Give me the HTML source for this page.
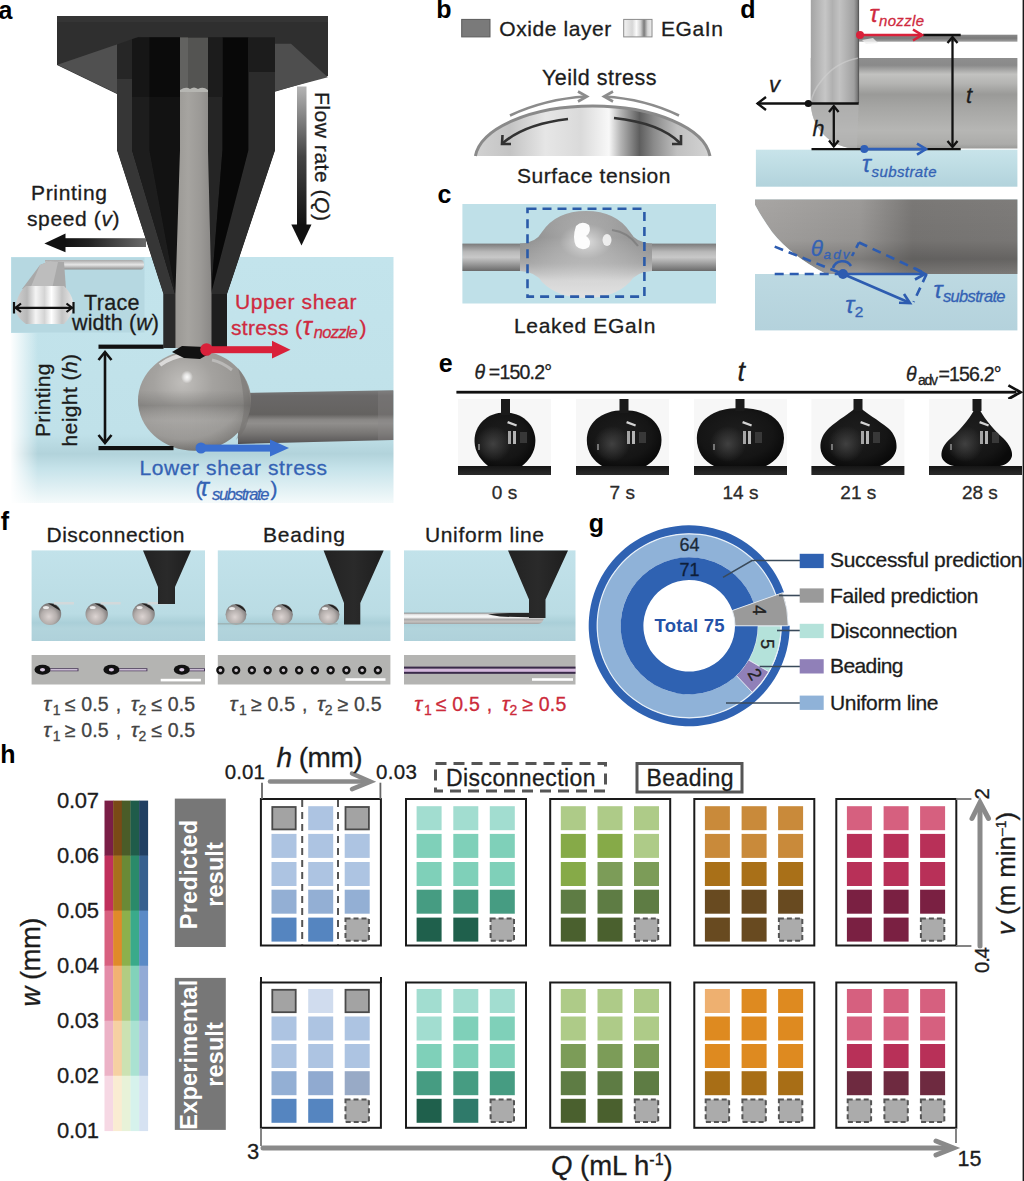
<!DOCTYPE html>
<html><head><meta charset="utf-8"><title>Figure</title>
<style>html,body{margin:0;padding:0;background:#fff;overflow:hidden;width:1024px;height:1181px;} svg{display:block;} text{font-family:"Liberation Sans", sans-serif;}</style>
</head><body>
<svg width="1024" height="1181" viewBox="0 0 1024 1181" font-family="'Liberation Sans', sans-serif">
<rect x="0" y="0" width="1024" height="1181" fill="#ffffff"/>

<defs>
<linearGradient id="aBg" x1="0" y1="0" x2="0" y2="1">
 <stop offset="0" stop-color="#c3e4ec"/>
 <stop offset="0.72" stop-color="#c0e1e9"/>
 <stop offset="0.8" stop-color="#b2d3db"/>
 <stop offset="0.86" stop-color="#c6e3ea"/>
 <stop offset="1" stop-color="#f4fafb"/>
</linearGradient>
<linearGradient id="aLeftFade" x1="0" y1="0" x2="1" y2="0">
 <stop offset="0" stop-color="#ffffff" stop-opacity="1"/>
 <stop offset="1" stop-color="#ffffff" stop-opacity="0"/>
</linearGradient>
<linearGradient id="tubeV" x1="0" y1="0" x2="1" y2="0">
 <stop offset="0" stop-color="#9a9894"/>
 <stop offset="0.35" stop-color="#a6a4a0"/>
 <stop offset="0.7" stop-color="#9b9996"/>
 <stop offset="1" stop-color="#8a8886"/>
</linearGradient>
<linearGradient id="speedArr" x1="0" y1="0" x2="1" y2="0">
 <stop offset="0" stop-color="#111"/>
 <stop offset="0.3" stop-color="#222"/>
 <stop offset="1" stop-color="#6a6a6a"/>
</linearGradient>
<linearGradient id="flowArr" x1="0" y1="0" x2="0" y2="1">
 <stop offset="0" stop-color="#b4b4b4"/>
 <stop offset="0.5" stop-color="#444"/>
 <stop offset="1" stop-color="#111"/>
</linearGradient>
<radialGradient id="ballG" cx="0.4" cy="0.32" r="0.75">
 <stop offset="0" stop-color="#c0bebb"/>
 <stop offset="0.35" stop-color="#a4a29f"/>
 <stop offset="0.75" stop-color="#94928f"/>
 <stop offset="0.95" stop-color="#767471"/>
 <stop offset="1" stop-color="#6a6865"/>
</radialGradient>
<linearGradient id="ballBand" x1="0" y1="0" x2="0" y2="1">
 <stop offset="0" stop-color="#000" stop-opacity="0"/>
 <stop offset="0.4" stop-color="#000" stop-opacity="0.0"/>
 <stop offset="0.55" stop-color="#000" stop-opacity="0.14"/>
 <stop offset="0.7" stop-color="#fff" stop-opacity="0.1"/>
 <stop offset="0.9" stop-color="#fff" stop-opacity="0.06"/>
 <stop offset="1" stop-color="#000" stop-opacity="0.05"/>
</linearGradient>
<radialGradient id="ballHi" cx="0.5" cy="0.5" r="0.5">
 <stop offset="0" stop-color="#ffffff" stop-opacity="0.95"/>
 <stop offset="0.5" stop-color="#ffffff" stop-opacity="0.6"/>
 <stop offset="1" stop-color="#ffffff" stop-opacity="0"/>
</radialGradient>
<linearGradient id="traceG" x1="0" y1="0" x2="0" y2="1">
 <stop offset="0" stop-color="#7a7a7a"/>
 <stop offset="0.1" stop-color="#6a6868"/>
 <stop offset="0.45" stop-color="#646260"/>
 <stop offset="0.55" stop-color="#8a8886"/>
 <stop offset="0.62" stop-color="#908e8c"/>
 <stop offset="0.8" stop-color="#787674"/>
 <stop offset="0.95" stop-color="#5e5c5c"/>
 <stop offset="1" stop-color="#4a4a4e"/>
</linearGradient>
<linearGradient id="insetSec" x1="0" y1="0" x2="1" y2="0">
 <stop offset="0" stop-color="#d0d0d0"/>
 <stop offset="0.2" stop-color="#b8b8b8"/>
 <stop offset="0.35" stop-color="#f4f4f4"/>
 <stop offset="0.5" stop-color="#d4d4d4"/>
 <stop offset="0.62" stop-color="#ffffff"/>
 <stop offset="0.8" stop-color="#c4c4c4"/>
 <stop offset="1" stop-color="#e8e8e8"/>
</linearGradient>
<linearGradient id="insetTube" x1="0" y1="0" x2="0" y2="1">
 <stop offset="0" stop-color="#a8a8a8"/>
 <stop offset="0.5" stop-color="#e6e6e6"/>
 <stop offset="1" stop-color="#8e8e8e"/>
</linearGradient>
<clipPath id="nozClip"><polygon points="117,37.5 275,37.5 275,150 227,294 227,348 163.5,348 163.5,294 117,150"/></clipPath>
</defs>

<rect x="11" y="257" width="382.5" height="246" fill="url(#aBg)"/>
<rect x="10" y="333" width="28" height="172" fill="url(#aLeftFade)"/>
<rect x="11.5" y="257.5" width="133" height="75" fill="#b6d8e1"/>
<path d="M45,260 H141 a3,4.75 0 0 1 0,9.5 H45 Z" fill="url(#insetTube)"/>
<polygon points="22,289 40,265 50,261 64,262 66,289" fill="#a9a9a9"/>
<polygon points="40,265 50,261 58,262 52,289 30,289" fill="#bdbdbd"/>
<path d="M26,324 C18,318 14,312 16,304 C18,295 22,289 26,286 H64 C70,292 73,298 73.5,305 C73,313 68,320 64,324 Z" fill="url(#insetSec)"/>
<g stroke="#111" stroke-width="2.2" fill="none"><line x1="15" y1="307.8" x2="72.5" y2="307.8"/><line x1="14" y1="302" x2="14" y2="313.5"/><line x1="73.5" y1="302" x2="73.5" y2="313.5"/><polyline points="21,303.5 15.5,307.8 21,312"/><polyline points="66.5,303.5 72,307.8 66.5,312"/></g>
<path d="M238,393 L393.3,390.3 L393.3,440 L238,444 Z" fill="url(#traceG)"/>
<rect x="378" y="391" width="15.3" height="49" fill="#8a8886" opacity="0.35"/>
<ellipse cx="194.5" cy="400.5" rx="56.5" ry="50.3" fill="url(#ballG)"/>
<ellipse cx="194.5" cy="400.5" rx="56.5" ry="50.3" fill="url(#ballBand)"/>
<path d="M238,368 Q252,385 250,410 Q248,430 236,440 Q244,420 244,405 Q243,385 238,368Z" fill="#6e6c6a" opacity="0.45"/>
<ellipse cx="187" cy="377" rx="6" ry="6.5" fill="url(#ballHi)"/>
<path d="M160,365 Q172,356 186,355" stroke="#f2f2f2" stroke-width="4" fill="none" opacity="0.7"/>
<path d="M212,360 Q222,362 232,370" stroke="#d8d8d8" stroke-width="3" fill="none" opacity="0.5"/>
<polygon points="57,16 328,16 328,76 274,92 117,94 57,65" fill="#2f2f2f"/>
<rect x="57" y="16" width="271" height="6" fill="#353535"/>
<polygon points="57.5,64.8 117.5,44.2 117.5,93.8" fill="#505050"/>
<polygon points="274,43.7 291,43.7 327.8,77.3 274,91.4" fill="#4e4e4e"/>
<g clip-path="url(#nozClip)">
<rect x="110" y="30" width="170" height="330" fill="#151515"/>
<polygon points="117,36 132,36 132,150 175,294 175,350 163.5,350 163.5,294 117,150" fill="#363636"/>
<polygon points="132,36 149.5,36 149.5,150 176,294 175,294 132,150" fill="#1d1d1d"/>
<polygon points="149.5,36 180,36 180,150 176,294 149.5,150" fill="#121212"/>
<polygon points="208,36 222.5,36 222.5,150 211,294 208,150" fill="#252525"/>
<polygon points="222.5,36 248.5,36 248.5,150 214,294 211,294 222.5,150" fill="#080808"/>
<polygon points="248.5,36 280,36 280,150 227,294 227,350 211,350 211,294 248.5,150" fill="#2c2c2c"/>
<polygon points="211,294 227,294 227,350 211,350" fill="#1e1e1e"/>
<rect x="248.5" y="36" width="27" height="36" fill="#1c1c1c"/>
<rect x="117" y="36" width="15" height="43" fill="#262626"/>
<rect x="132" y="36" width="17.5" height="61" fill="#161616"/>
<rect x="149.5" y="36" width="30.5" height="61" fill="#0b0b0b"/>
<rect x="208" y="36" width="14.5" height="61" fill="#1c1c1c"/>
<polygon points="163.5,294 175.4,294 175.4,350 163.5,350" fill="#2a2a2a"/>
<polygon points="180,88 208,88 208,150 211.5,294 211.5,350 175.4,350 175.4,294 180,150" fill="url(#tubeV)"/>
<polygon points="180,37 208,37 208,90 180,90" fill="#545452"/>
<polygon points="180,37 188,37 188,90 180,90" fill="#626260"/>
<path d="M180,90 Q186,86 190,89 Q194,86 198,89 Q203,86 208,90 L208,92 L180,92Z" fill="#b6b6b2"/>
</g>
<polygon points="117,36 141,36 117,44.5" fill="#2f2f2f"/>
<path d="M172,352 L182,346 L205,347 L212,352 L200,359 L184,358 Z" fill="#111"/>
<rect x="297" y="86.5" width="9.5" height="140" fill="url(#flowArr)"/>
<polygon points="291.3,224.5 311.5,224.5 301.5,245.5" fill="#111"/>
<rect x="64" y="238.2" width="82" height="8.8" fill="url(#speedArr)"/>
<polygon points="44.4,243.5 65.5,233.4 65.5,252.3" fill="#111"/>
<rect x="98.5" y="344.6" width="65" height="4.2" fill="#111"/>
<rect x="98.5" y="446" width="75" height="4.2" fill="#111"/>
<g stroke="#111" stroke-width="2.6" fill="none"><line x1="105" y1="352" x2="105" y2="443"/><polyline points="98.5,360 105,352 111.5,360"/><polyline points="98.5,435 105,443 111.5,435"/></g>
<circle cx="206.5" cy="349.5" r="6.3" fill="#d9213a"/>
<rect x="206" y="346.2" width="70" height="7" fill="#d9213a"/>
<polygon points="272,340.8 290.5,349.7 272,358.6" fill="#d9213a"/>
<circle cx="201" cy="448" r="5.5" fill="#3a6fd0"/>
<rect x="200" y="444.6" width="72" height="7" fill="#3a6fd0"/>
<polygon points="270,439.5 289,448 270,456.5" fill="#3a6fd0"/>

<defs>
<linearGradient id="egaSw" x1="0" y1="0" x2="1" y2="0">
 <stop offset="0" stop-color="#f2f2f2"/>
 <stop offset="0.3" stop-color="#d6d6d6"/>
 <stop offset="0.45" stop-color="#fafafa"/>
 <stop offset="0.6" stop-color="#d0d0d0"/>
 <stop offset="0.72" stop-color="#7a7a7a"/>
 <stop offset="0.85" stop-color="#d8d8d8"/>
 <stop offset="1" stop-color="#eeeeee"/>
</linearGradient>
<linearGradient id="domeG" x1="475" y1="0" x2="710" y2="0" gradientUnits="userSpaceOnUse">
 <stop offset="0" stop-color="#d2d2d2"/>
 <stop offset="0.15" stop-color="#c4c4c4"/>
 <stop offset="0.3" stop-color="#e6e6e6"/>
 <stop offset="0.45" stop-color="#dadada"/>
 <stop offset="0.57" stop-color="#f8f8f8"/>
 <stop offset="0.62" stop-color="#b4b4b4"/>
 <stop offset="0.7" stop-color="#5e5e5e"/>
 <stop offset="0.76" stop-color="#8a8a8a"/>
 <stop offset="0.86" stop-color="#c0c0c0"/>
 <stop offset="1" stop-color="#d4d4d4"/>
</linearGradient>
<linearGradient id="cTube" x1="0" y1="0" x2="0" y2="1">
 <stop offset="0" stop-color="#7a7a7a"/>
 <stop offset="0.3" stop-color="#b8b8b8"/>
 <stop offset="0.5" stop-color="#c8c8c8"/>
 <stop offset="0.75" stop-color="#9a9a9a"/>
 <stop offset="1" stop-color="#6a6a6a"/>
</linearGradient>
<radialGradient id="cBlob" cx="0.5" cy="0.35" r="0.5">
 <stop offset="0" stop-color="#ffffff" stop-opacity="0.7"/>
 <stop offset="0.4" stop-color="#ffffff" stop-opacity="0.2"/>
 <stop offset="1" stop-color="#ffffff" stop-opacity="0"/>
</radialGradient>
<linearGradient id="cBlobV" x1="0" y1="0" x2="0" y2="1">
 <stop offset="0" stop-color="#9a9a9a"/>
 <stop offset="0.3" stop-color="#8a8a8a"/>
 <stop offset="0.6" stop-color="#a8a8a8"/>
 <stop offset="0.8" stop-color="#d6d6d6"/>
 <stop offset="1" stop-color="#e2e2e2"/>
</linearGradient>
<linearGradient id="dNoz" x1="0" y1="0" x2="1" y2="0">
 <stop offset="0" stop-color="#a4a4a4"/>
 <stop offset="0.3" stop-color="#c6c6c6"/>
 <stop offset="0.45" stop-color="#b0b0b0"/>
 <stop offset="0.6" stop-color="#c2c2c2"/>
 <stop offset="0.9" stop-color="#a0a0a0"/>
 <stop offset="1" stop-color="#6a6a6a"/>
</linearGradient>
<linearGradient id="dTube" x1="0" y1="0" x2="0" y2="1">
 <stop offset="0" stop-color="#8e8e8e"/>
 <stop offset="0.08" stop-color="#8a8a8a"/>
 <stop offset="0.18" stop-color="#c2c2c0"/>
 <stop offset="0.28" stop-color="#b4b4b2"/>
 <stop offset="0.4" stop-color="#9a9a98"/>
 <stop offset="0.55" stop-color="#a6a6a4"/>
 <stop offset="0.8" stop-color="#b6b6b4"/>
 <stop offset="0.95" stop-color="#acacaa"/>
 <stop offset="1" stop-color="#9a9a98"/>
</linearGradient>
<linearGradient id="dThin" x1="0" y1="0" x2="0" y2="1">
 <stop offset="0" stop-color="#8a8a8a"/>
 <stop offset="0.5" stop-color="#7a7a7a"/>
 <stop offset="1" stop-color="#a0a0a0"/>
</linearGradient>
<linearGradient id="dSub" x1="0" y1="0" x2="0" y2="1">
 <stop offset="0" stop-color="#c8e4ea"/>
 <stop offset="1" stop-color="#b2d3dc"/>
</linearGradient>
<linearGradient id="d2Gray" x1="0" y1="0" x2="1" y2="0">
 <stop offset="0" stop-color="#a8a6a4"/>
 <stop offset="0.4" stop-color="#9c9a98"/>
 <stop offset="0.6" stop-color="#7a7876"/>
 <stop offset="1" stop-color="#7e7c7a"/>
</linearGradient>
<linearGradient id="d2GrayV" x1="0" y1="0" x2="0" y2="1">
 <stop offset="0" stop-color="#000" stop-opacity="0"/>
 <stop offset="0.55" stop-color="#000" stop-opacity="0.05"/>
 <stop offset="0.8" stop-color="#000" stop-opacity="0.2"/>
 <stop offset="1" stop-color="#000" stop-opacity="0.02"/>
</linearGradient>
<linearGradient id="d2Sub" x1="0" y1="0" x2="0" y2="1">
 <stop offset="0" stop-color="#c9e3ea"/>
 <stop offset="1" stop-color="#b4d2dc"/>
</linearGradient>
<marker id="mGray" viewBox="0 0 10 10" refX="8" refY="5" markerWidth="5" markerHeight="5" orient="auto-start-reverse" markerUnits="userSpaceOnUse"><path d="M1,1 L8,5 L1,9" fill="none" stroke="#8a8a8a" stroke-width="1.6"/></marker>
</defs>

<rect x="461.7" y="19.4" width="28.3" height="17.5" fill="#7a7a7a" stroke="#5a5a5a" stroke-width="1"/>
<rect x="623.7" y="19.4" width="28.3" height="17.5" fill="url(#egaSw)" stroke="#8a8a8a" stroke-width="1"/>
<path d="M475.4,156 A117.8,55 0 0 1 710,156 Z" fill="url(#domeG)"/>
<path d="M475.4,156 A117.8,55 0 0 1 710,156" fill="none" stroke="#8a8a8a" stroke-width="3"/>
<g stroke="#8c8c8c" stroke-width="2.6" fill="none"><path d="M510,115.5 Q545,99 586,96.5"/><path d="M578,91.5 L587,96.5 L578,101.5"/><path d="M679,115.5 Q645,99 604,96.5"/><path d="M613,91.5 L604,96.5 L613,101.5"/></g>
<g stroke="#333" stroke-width="2.6" fill="none"><path d="M568,119 Q525,124 503,143"/><path d="M502.5,135 L502,144 L511,144"/><path d="M614,118 Q660,123 680,143"/><path d="M681,135 L681,144 L672,144"/></g>
<rect x="462.4" y="204" width="253.6" height="99.5" fill="#bfe0e8"/>
<rect x="462.4" y="243.6" width="253.6" height="27.4" fill="url(#cTube)"/>
<path d="M520,243.6 Q536,243 542,232 Q556,211 586,211 Q616,211 630,232 Q636,243 652,243.6 L652,271 Q636,272 630,282 Q614,298 586,298 Q558,298 542,282 Q536,272 520,271 Z" fill="url(#cBlobV)"/>
<path d="M520,243.6 Q536,243 542,232 Q556,211 586,211 Q616,211 630,232 Q636,243 652,243.6 L652,271 Q636,272 630,282 Q614,298 586,298 Q558,298 542,282 Q536,272 520,271 Z" fill="url(#cBlob)"/>
<path d="M576,226 Q582,220 589,225 Q592,232 586,236 Q592,240 589,247 Q582,252 576,246 Q572,238 576,226Z" fill="#ffffff" opacity="0.95"/>
<ellipse cx="607" cy="240" rx="4.5" ry="6" fill="#f4f4f4" opacity="0.9"/>
<path d="M612,230 Q628,232 638,246" stroke="#6a6a6a" stroke-width="2" fill="none" opacity="0.5"/>
<rect x="527.5" y="208.8" width="116.9" height="87.8" fill="none" stroke="#2a5aa8" stroke-width="2.6" stroke-dasharray="9,6"/>
<rect x="755.9" y="149.7" width="261.5" height="37" fill="url(#dSub)"/>
<rect x="859" y="34.7" width="158.4" height="7" fill="url(#dThin)"/>
<path d="M858,58 H1017.4 V148.6 H857 A46,46 0 0 1 810.8,101 V58 Z" fill="url(#dTube)"/>
<rect x="810.8" y="0" width="48" height="103" fill="url(#dNoz)"/>
<path d="M810.8,103.5 A46,46 0 0 0 857,148.6 L858.7,103.5 Z" fill="#b6b6b6" opacity="0.55"/>
<path d="M858.7,58 Q836,62 822,80 Q812,92 811,103" fill="none" stroke="#d0d0d0" stroke-width="1.5" opacity="0.6"/>
<line x1="858.5" y1="0" x2="858.5" y2="103" stroke="#5a5a5a" stroke-width="1.2"/>
<polygon points="862,40 873,38 878,43 866,44" fill="#f0f0f0" opacity="0.8"/>
<g stroke="#111" stroke-width="2.3" fill="none"><line x1="757" y1="103.5" x2="858.7" y2="103.5"/><polyline points="766,97 757.5,103.5 766,110"/><line x1="811.5" y1="149.1" x2="960.7" y2="149.1"/><line x1="923" y1="35" x2="960.7" y2="35"/><line x1="833.8" y1="106" x2="833.8" y2="146.5"/><polyline points="829,112 833.8,106 838.6,112"/><polyline points="829,140.5 833.8,146.5 838.6,140.5"/><line x1="952.5" y1="37" x2="952.5" y2="147"/><polyline points="947.5,43 952.5,37 957.5,43"/><polyline points="947.5,141 952.5,147 957.5,141"/></g>
<circle cx="808.3" cy="103.5" r="3.6" fill="#111"/>
<g stroke="#d9213a" stroke-width="2.6" fill="none"><line x1="860" y1="35" x2="922" y2="35"/><polyline points="913,29.5 922,35 913,40.5"/></g>
<circle cx="860" cy="35" r="4" fill="#d9213a"/>
<g stroke="#3060b8" stroke-width="2.6" fill="none"><line x1="864" y1="149.1" x2="926" y2="149.1"/><polyline points="917,143.6 926,149.1 917,154.6"/></g>
<circle cx="864.3" cy="149.1" r="4" fill="#3060b8"/>
<rect x="755" y="199.4" width="262.4" height="131" fill="url(#d2Sub)"/>
<path d="M755,199.4 H1017.4 V274 H826 Q790,255 772,232 Q762,218 755,205 Z" fill="url(#d2Gray)"/>
<path d="M755,199.4 H1017.4 V274 H826 Q790,255 772,232 Q762,218 755,205 Z" fill="url(#d2GrayV)"/>
<path d="M755,205 Q762,218 772,232 Q790,255 826,274 H755 Z" fill="#ffffff"/>
<g stroke="#2d5cb0" stroke-width="2.6" fill="none"><line x1="774.7" y1="274" x2="843" y2="274" stroke-dasharray="9,6"/><line x1="774.7" y1="246.6" x2="843" y2="274" stroke-dasharray="9,6"/><line x1="843" y1="274" x2="924" y2="274"/><polyline points="915,268.5 925,274 915,279.5"/><line x1="843" y1="274" x2="909" y2="302.5"/><polyline points="899,302.8 910,303.2 904,294"/><line x1="859" y1="242.5" x2="926.6" y2="274" stroke-dasharray="9,6"/><line x1="926.6" y1="274" x2="913.6" y2="302" stroke-dasharray="9,6"/><line x1="859" y1="242.5" x2="852" y2="256" stroke-dasharray="6,5"/><path d="M833,268 A10,10 0 0 1 851,266"/></g>
<circle cx="843" cy="274" r="5" fill="#2d5cb0"/>
<defs>
<radialGradient id="dropG" cx="0.45" cy="0.45" r="0.6">
 <stop offset="0" stop-color="#1e1e1e"/>
 <stop offset="0.7" stop-color="#151515"/>
 <stop offset="1" stop-color="#0a0a0a"/>
</radialGradient>
<linearGradient id="slabG" x1="0" y1="0" x2="0" y2="1">
 <stop offset="0" stop-color="#151515"/>
 <stop offset="1" stop-color="#2a2a2a"/>
</linearGradient>
</defs>
<rect x="456.4" y="390.8" width="560" height="2.8" fill="#111"/>
<polyline points="1008.4,385.4 1020.6,392.2 1008.4,399" fill="none" stroke="#111" stroke-width="2.8"/>
<rect x="458" y="399" width="93" height="76" fill="#f7f7f7"/>
<rect x="458" y="466" width="93" height="9" fill="url(#slabG)"/>
<rect x="576" y="399" width="93" height="76" fill="#f7f7f7"/>
<rect x="576" y="466" width="93" height="9" fill="url(#slabG)"/>
<rect x="694" y="399" width="93" height="76" fill="#f7f7f7"/>
<rect x="694" y="466" width="93" height="9" fill="url(#slabG)"/>
<rect x="811.4" y="399" width="93" height="76" fill="#f7f7f7"/>
<rect x="811.4" y="466" width="93" height="9" fill="url(#slabG)"/>
<rect x="929" y="399" width="93" height="76" fill="#f7f7f7"/>
<rect x="929" y="466" width="93" height="9" fill="url(#slabG)"/>
<defs><radialGradient id="dropRefl" cx="0.5" cy="0.5" r="0.5"><stop offset="0" stop-color="#4a4a4a" stop-opacity="0.8"/><stop offset="1" stop-color="#4a4a4a" stop-opacity="0"/></radialGradient></defs>
<clipPath id="dclip0"><path d="M505,412.6 C523,412.6 535.4,425 535.4,441 C535.4,453 528,461 522,466 L488,466 C482,461 474.5,453 474.5,441 C474.5,425 487,412.6 505,412.6 Z"/></clipPath>
<path d="M505,412.6 C523,412.6 535.4,425 535.4,441 C535.4,453 528,461 522,466 L488,466 C482,461 474.5,453 474.5,441 C474.5,425 487,412.6 505,412.6 Z" fill="url(#dropG)"/>
<rect x="501" y="399" width="9" height="16" fill="#1a1a1a"/>
<g clip-path="url(#dclip0)">
<ellipse cx="493" cy="444" rx="18" ry="18" fill="url(#dropRefl)"/>
<path d="M508,421 l9,3.5 l-0.8,2 l-9,-3.3 z" fill="#e8e8e8" opacity="0.9"/>
<rect x="508" y="431" width="3" height="13" fill="#bdbdbd" opacity="0.85"/>
<rect x="513" y="431" width="3" height="13" fill="#d0d0d0" opacity="0.85"/>
<rect x="520" y="432" width="7" height="11" fill="#3c3c3c" opacity="0.9"/>
<rect x="478" y="444" width="2" height="6" fill="#9a9a9a" opacity="0.7"/>
</g>
<clipPath id="dclip1"><path d="M624,410.3 C648,410.3 661.5,424 661.5,440 C661.5,453 654,461 646,466 L602,466 C594,461 586.8,453 586.8,440 C586.8,424 600,410.3 624,410.3 Z"/></clipPath>
<path d="M624,410.3 C648,410.3 661.5,424 661.5,440 C661.5,453 654,461 646,466 L602,466 C594,461 586.8,453 586.8,440 C586.8,424 600,410.3 624,410.3 Z" fill="url(#dropG)"/>
<rect x="619.5" y="399" width="9" height="14" fill="#1a1a1a"/>
<g clip-path="url(#dclip1)">
<ellipse cx="612" cy="444" rx="18" ry="18" fill="url(#dropRefl)"/>
<path d="M627,421 l9,3.5 l-0.8,2 l-9,-3.3 z" fill="#e8e8e8" opacity="0.9"/>
<rect x="627" y="431" width="3" height="13" fill="#bdbdbd" opacity="0.85"/>
<rect x="632" y="431" width="3" height="13" fill="#d0d0d0" opacity="0.85"/>
<rect x="639" y="432" width="7" height="11" fill="#3c3c3c" opacity="0.9"/>
<rect x="597" y="444" width="2" height="6" fill="#9a9a9a" opacity="0.7"/>
</g>
<clipPath id="dclip2"><path d="M740,407.9 C768,407.9 784,421 784,438 C784,452 776,461 766,466 L714,466 C704,461 696.8,452 696.8,438 C696.8,421 712,407.9 740,407.9 Z"/></clipPath>
<path d="M740,407.9 C768,407.9 784,421 784,438 C784,452 776,461 766,466 L714,466 C704,461 696.8,452 696.8,438 C696.8,421 712,407.9 740,407.9 Z" fill="url(#dropG)"/>
<rect x="735.5" y="399" width="9" height="12" fill="#1a1a1a"/>
<g clip-path="url(#dclip2)">
<ellipse cx="728" cy="444" rx="18" ry="18" fill="url(#dropRefl)"/>
<path d="M743,421 l9,3.5 l-0.8,2 l-9,-3.3 z" fill="#e8e8e8" opacity="0.9"/>
<rect x="743" y="431" width="3" height="13" fill="#bdbdbd" opacity="0.85"/>
<rect x="748" y="431" width="3" height="13" fill="#d0d0d0" opacity="0.85"/>
<rect x="755" y="432" width="7" height="11" fill="#3c3c3c" opacity="0.9"/>
<rect x="713" y="444" width="2" height="6" fill="#9a9a9a" opacity="0.7"/>
</g>
<clipPath id="dclip3"><path d="M858,406 C866,413 878,420 888,428 C895,434 897,442 896.5,448 C896,456 888,463 880,466 L836,466 C828,463 821,456 820.5,448 C820,440 823,434 829,428 C838,420 850,413 858,406 Z"/></clipPath>
<path d="M858,406 C866,413 878,420 888,428 C895,434 897,442 896.5,448 C896,456 888,463 880,466 L836,466 C828,463 821,456 820.5,448 C820,440 823,434 829,428 C838,420 850,413 858,406 Z" fill="url(#dropG)"/>
<rect x="853.5" y="399" width="9" height="12" fill="#1a1a1a"/>
<g clip-path="url(#dclip3)">
<ellipse cx="846" cy="444" rx="18" ry="18" fill="url(#dropRefl)"/>
<path d="M861,421 l9,3.5 l-0.8,2 l-9,-3.3 z" fill="#e8e8e8" opacity="0.9"/>
<rect x="861" y="431" width="3" height="13" fill="#bdbdbd" opacity="0.85"/>
<rect x="866" y="431" width="3" height="13" fill="#d0d0d0" opacity="0.85"/>
<rect x="873" y="432" width="7" height="11" fill="#3c3c3c" opacity="0.9"/>
<rect x="831" y="444" width="2" height="6" fill="#9a9a9a" opacity="0.7"/>
</g>
<clipPath id="dclip4"><path d="M977,404 C982,416 992,428 1003,438 C1010,445 1012.6,451 1012,456 C1011,461 1006,465 1000,466 L954,466 C948,465 942,461 941.5,456 C941,450 944,444 951,438 C962,428 972,416 977,404 Z"/></clipPath>
<path d="M977,404 C982,416 992,428 1003,438 C1010,445 1012.6,451 1012,456 C1011,461 1006,465 1000,466 L954,466 C948,465 942,461 941.5,456 C941,450 944,444 951,438 C962,428 972,416 977,404 Z" fill="url(#dropG)"/>
<rect x="972.5" y="399" width="9" height="12" fill="#1a1a1a"/>
<g clip-path="url(#dclip4)">
<ellipse cx="965" cy="444" rx="18" ry="18" fill="url(#dropRefl)"/>
<path d="M980,421 l9,3.5 l-0.8,2 l-9,-3.3 z" fill="#e8e8e8" opacity="0.9"/>
<rect x="980" y="431" width="3" height="13" fill="#bdbdbd" opacity="0.85"/>
<rect x="985" y="431" width="3" height="13" fill="#d0d0d0" opacity="0.85"/>
<rect x="992" y="432" width="7" height="11" fill="#3c3c3c" opacity="0.9"/>
<rect x="950" y="444" width="2" height="6" fill="#9a9a9a" opacity="0.7"/>
</g>
<defs>
<linearGradient id="fBg" x1="0" y1="0" x2="0" y2="1">
 <stop offset="0" stop-color="#c2e2ea"/>
 <stop offset="0.7" stop-color="#badce4"/>
 <stop offset="0.8" stop-color="#aacfd8"/>
 <stop offset="0.86" stop-color="#b2d4dc"/>
 <stop offset="1" stop-color="#afd1da"/>
</linearGradient>
<radialGradient id="fBall" cx="0.45" cy="0.62" r="0.62">
 <stop offset="0" stop-color="#dcd4d2"/>
 <stop offset="0.55" stop-color="#b4aeac"/>
 <stop offset="1" stop-color="#727070"/>
</radialGradient>
<linearGradient id="fNoz" x1="0" y1="0" x2="1" y2="0">
 <stop offset="0" stop-color="#222"/>
 <stop offset="0.5" stop-color="#2a2a2a"/>
 <stop offset="1" stop-color="#1e1e1e"/>
</linearGradient>
<linearGradient id="fLine" x1="0" y1="0" x2="0" y2="1">
 <stop offset="0" stop-color="#6a6a6a"/>
 <stop offset="0.12" stop-color="#d8d8d8"/>
 <stop offset="0.3" stop-color="#fafafa"/>
 <stop offset="0.48" stop-color="#e8e8e8"/>
 <stop offset="0.55" stop-color="#a8a8a8"/>
 <stop offset="0.8" stop-color="#c4c0be"/>
 <stop offset="1" stop-color="#a0a0a0"/>
</linearGradient>
</defs>
<rect x="31.6" y="550.4" width="173.4" height="90.6" fill="url(#fBg)"/>
<rect x="31.6" y="655" width="173.4" height="29.5" fill="#b4b4b2"/>
<rect x="217.8" y="550.4" width="172.59999999999997" height="90.6" fill="url(#fBg)"/>
<rect x="217.8" y="655" width="172.59999999999997" height="29.5" fill="#b4b4b2"/>
<rect x="404" y="550.4" width="171.5" height="90.6" fill="url(#fBg)"/>
<rect x="404" y="655" width="171.5" height="29.5" fill="#b4b4b2"/>
<ellipse cx="50" cy="614" rx="11.2" ry="11" fill="url(#fBall)"/>
<path d="M48,603.5 Q57,603 60.5,611 Q56,608 48,603.5Z" fill="#222"/>
<ellipse cx="46" cy="607.5" rx="3" ry="1.6" fill="#f4f4f4" opacity="0.9"/>
<rect x="54" y="602" width="20" height="2.5" fill="#d8d8d8" opacity="0.8"/>
<ellipse cx="96.7" cy="614" rx="11.2" ry="11" fill="url(#fBall)"/>
<path d="M94.7,603.5 Q103.7,603 107.2,611 Q102.7,608 94.7,603.5Z" fill="#222"/>
<ellipse cx="92.7" cy="607.5" rx="3" ry="1.6" fill="#f4f4f4" opacity="0.9"/>
<rect x="100.7" y="602" width="20" height="2.5" fill="#d8d8d8" opacity="0.8"/>
<ellipse cx="143.6" cy="614" rx="11.2" ry="11" fill="url(#fBall)"/>
<path d="M141.6,603.5 Q150.6,603 154.1,611 Q149.6,608 141.6,603.5Z" fill="#222"/>
<ellipse cx="139.6" cy="607.5" rx="3" ry="1.6" fill="#f4f4f4" opacity="0.9"/>
<rect x="147.6" y="602" width="20" height="2.5" fill="#d8d8d8" opacity="0.8"/>
<polygon points="143,550.4 191,550.4 175,587 175,604 158,604 158,587" fill="url(#fNoz)"/>
<ellipse cx="236" cy="614.5" rx="10.5" ry="10.5" fill="url(#fBall)"/>
<path d="M235,604.5 Q243,604 246,612 Q241,608 235,604.5Z" fill="#222"/>
<ellipse cx="232" cy="608.5" rx="3" ry="1.6" fill="#f4f4f4" opacity="0.9"/>
<ellipse cx="282.4" cy="614.5" rx="10.5" ry="10.5" fill="url(#fBall)"/>
<path d="M281.4,604.5 Q289.4,604 292.4,612 Q287.4,608 281.4,604.5Z" fill="#222"/>
<ellipse cx="278.4" cy="608.5" rx="3" ry="1.6" fill="#f4f4f4" opacity="0.9"/>
<ellipse cx="329" cy="614.5" rx="10.5" ry="10.5" fill="url(#fBall)"/>
<path d="M328,604.5 Q336,604 339,612 Q334,608 328,604.5Z" fill="#222"/>
<ellipse cx="325" cy="608.5" rx="3" ry="1.6" fill="#f4f4f4" opacity="0.9"/>
<rect x="217.8" y="623" width="120" height="1.5" fill="#9aa" opacity="0.7"/>
<polygon points="323.6,550.4 383.7,550.4 360.3,603 360.3,624.5 344,624.5 344,603" fill="url(#fNoz)"/>
<path d="M404,612.7 H538 Q543,613 544,618 Q543,623.5 538,624 H404 Z" fill="url(#fLine)"/>
<path d="M488,614.5 Q500,612.5 530,613 L545,613 L545,617 Q520,617.5 500,616.5 Z" fill="#262626"/>
<polygon points="508,550.4 568,550.4 545.5,599.5 545.5,618 529,618 529,599.5" fill="url(#fNoz)"/>
<line x1="46.5" y1="669.8" x2="78.5" y2="669.8" stroke="#4a3a5a" stroke-width="3"/>
<line x1="46.5" y1="669.8" x2="77.5" y2="669.8" stroke="#dccce4" stroke-width="1.4"/>
<ellipse cx="42.5" cy="669.8" rx="8" ry="5" fill="#111"/>
<ellipse cx="42.5" cy="669.8" rx="2.6" ry="1.8" fill="#d8c8e0"/>
<line x1="115.4" y1="669.8" x2="147.4" y2="669.8" stroke="#4a3a5a" stroke-width="3"/>
<line x1="115.4" y1="669.8" x2="146.4" y2="669.8" stroke="#dccce4" stroke-width="1.4"/>
<ellipse cx="111.4" cy="669.8" rx="8" ry="5" fill="#111"/>
<ellipse cx="111.4" cy="669.8" rx="2.6" ry="1.8" fill="#d8c8e0"/>
<line x1="185.8" y1="669.8" x2="205" y2="669.8" stroke="#4a3a5a" stroke-width="3"/>
<line x1="185.8" y1="669.8" x2="204" y2="669.8" stroke="#dccce4" stroke-width="1.4"/>
<ellipse cx="181.8" cy="669.8" rx="8" ry="5" fill="#111"/>
<ellipse cx="181.8" cy="669.8" rx="2.6" ry="1.8" fill="#d8c8e0"/>
<rect x="160.7" y="678.8" width="40.2" height="2.6" fill="#ffffff"/>
<rect x="31.6" y="655" width="0" height="0"/>
<circle cx="220.4" cy="670.3" r="3" fill="#d0c8d0" stroke="#111" stroke-width="2.4"/>
<circle cx="236.15" cy="670.3" r="3" fill="#d0c8d0" stroke="#111" stroke-width="2.4"/>
<circle cx="251.9" cy="670.3" r="3" fill="#d0c8d0" stroke="#111" stroke-width="2.4"/>
<circle cx="267.65" cy="670.3" r="3" fill="#d0c8d0" stroke="#111" stroke-width="2.4"/>
<circle cx="283.4" cy="670.3" r="3" fill="#d0c8d0" stroke="#111" stroke-width="2.4"/>
<circle cx="299.15" cy="670.3" r="3" fill="#d0c8d0" stroke="#111" stroke-width="2.4"/>
<circle cx="314.9" cy="670.3" r="3" fill="#d0c8d0" stroke="#111" stroke-width="2.4"/>
<circle cx="330.65" cy="670.3" r="3" fill="#d0c8d0" stroke="#111" stroke-width="2.4"/>
<circle cx="346.4" cy="670.3" r="3" fill="#d0c8d0" stroke="#111" stroke-width="2.4"/>
<circle cx="362.15" cy="670.3" r="3" fill="#d0c8d0" stroke="#111" stroke-width="2.4"/>
<circle cx="377.9" cy="670.3" r="3" fill="#d0c8d0" stroke="#111" stroke-width="2.4"/>
<rect x="345.5" y="678.2" width="40" height="2.6" fill="#ffffff"/>
<rect x="404" y="668.5" width="171.5" height="3.5" fill="#d4b8dc"/>
<rect x="404" y="666.6" width="171.5" height="2" fill="#3a2a4a"/>
<rect x="404" y="671.8" width="171.5" height="2" fill="#3a2a4a"/>
<rect x="532" y="678.2" width="41" height="2.6" fill="#ffffff"/>
<path d="M783.94,592.25 A100.5,100.5 0 1 0 789.70,625.80 L781.20,625.80 A92,92 0 1 1 775.92,595.09 Z" fill="#2f62b2"/>
<path d="M775.92,595.09 A92,92 0 1 0 752.53,692.53 L736.35,675.49 A68.5,68.5 0 1 1 753.77,602.93 Z" fill="#8fb2d8"/>
<path d="M768.87,671.80 A92,92 0 0 0 781.20,625.80 L757.70,625.80 A68.5,68.5 0 0 1 748.52,660.05 Z" fill="#b4e2da" stroke="#e4ecf4" stroke-width="0.9"/>
<path d="M752.53,692.53 A92,92 0 0 0 768.87,671.80 L748.52,660.05 A68.5,68.5 0 0 1 736.35,675.49 Z" fill="#9080b8" stroke="#e4ecf4" stroke-width="0.9"/>
<path d="M753.77,602.93 A68.5,68.5 0 1 0 757.70,625.80 L735.00,625.80 A45.8,45.8 0 1 1 732.37,610.51 Z" fill="#2f62b2"/>
<path d="M788.20,625.80 A99,99 0 0 0 782.52,592.75 L732.37,610.51 A45.8,45.8 0 0 1 735.00,625.80 Z" fill="#9a9a9a" stroke="#e4ecf4" stroke-width="0.9"/>
<path d="M776.49,594.89 A92.6,92.6 0 1 0 781.80,625.80 L780.60,625.80 A91.4,91.4 0 1 1 775.36,595.29 Z" fill="#e8f0f8"/>
<g stroke="#3a4a5a" stroke-width="1.6" fill="none"><polyline points="723,577.4 752,560.5 800,560.5"/><line x1="779" y1="595.5" x2="800" y2="595.5"/><line x1="777" y1="630.5" x2="800" y2="630.5"/><line x1="759.6" y1="666.5" x2="800" y2="666.5"/><line x1="726" y1="703" x2="800" y2="703"/></g>
<rect x="799.7" y="553.8" width="24" height="14.3" fill="#2f62b2"/>
<rect x="799.7" y="588.4" width="24" height="14.3" fill="#9a9a9a"/>
<rect x="799.7" y="623.8" width="24" height="14.3" fill="#b4e2da"/>
<rect x="799.7" y="659.2" width="24" height="14.3" fill="#9080b8"/>
<rect x="799.7" y="695.6" width="24" height="14.3" fill="#8fb2d8"/>
<rect x="104.50" y="800.60" width="8.96" height="55.33" fill="#7a1e46"/>
<rect x="113.16" y="800.60" width="8.96" height="55.33" fill="#7a4a16"/>
<rect x="121.82" y="800.60" width="8.96" height="55.33" fill="#4a5c28"/>
<rect x="130.48" y="800.60" width="8.96" height="55.33" fill="#1f5c4a"/>
<rect x="139.14" y="800.60" width="8.96" height="55.33" fill="#203f62"/>
<rect x="104.50" y="855.63" width="8.96" height="55.33" fill="#c0305c"/>
<rect x="113.16" y="855.63" width="8.96" height="55.33" fill="#a8701c"/>
<rect x="121.82" y="855.63" width="8.96" height="55.33" fill="#6a8a36"/>
<rect x="130.48" y="855.63" width="8.96" height="55.33" fill="#2a8a6a"/>
<rect x="139.14" y="855.63" width="8.96" height="55.33" fill="#36608f"/>
<rect x="104.50" y="910.66" width="8.96" height="55.33" fill="#d8607f"/>
<rect x="113.16" y="910.66" width="8.96" height="55.33" fill="#e08a2a"/>
<rect x="121.82" y="910.66" width="8.96" height="55.33" fill="#8cb04c"/>
<rect x="130.48" y="910.66" width="8.96" height="55.33" fill="#3aaa8a"/>
<rect x="139.14" y="910.66" width="8.96" height="55.33" fill="#5a8ac6"/>
<rect x="104.50" y="965.69" width="8.96" height="55.33" fill="#e48ca8"/>
<rect x="113.16" y="965.69" width="8.96" height="55.33" fill="#f2b272"/>
<rect x="121.82" y="965.69" width="8.96" height="55.33" fill="#b2cc82"/>
<rect x="130.48" y="965.69" width="8.96" height="55.33" fill="#82d2ba"/>
<rect x="139.14" y="965.69" width="8.96" height="55.33" fill="#92aad6"/>
<rect x="104.50" y="1020.72" width="8.96" height="55.33" fill="#ecb2c6"/>
<rect x="113.16" y="1020.72" width="8.96" height="55.33" fill="#f6d0a2"/>
<rect x="121.82" y="1020.72" width="8.96" height="55.33" fill="#cce2b2"/>
<rect x="130.48" y="1020.72" width="8.96" height="55.33" fill="#aae2d2"/>
<rect x="139.14" y="1020.72" width="8.96" height="55.33" fill="#b2c6e2"/>
<rect x="104.50" y="1075.75" width="8.96" height="55.33" fill="#f6d8e4"/>
<rect x="113.16" y="1075.75" width="8.96" height="55.33" fill="#faecd2"/>
<rect x="121.82" y="1075.75" width="8.96" height="55.33" fill="#e8f2d8"/>
<rect x="130.48" y="1075.75" width="8.96" height="55.33" fill="#d6f2ec"/>
<rect x="139.14" y="1075.75" width="8.96" height="55.33" fill="#d6e2f2"/>
<rect x="174.8" y="798.6" width="51" height="148.4" fill="#777777"/>
<rect x="174.8" y="977.9" width="51" height="152" fill="#777777"/>
<rect x="260.9" y="799" width="120" height="146.5" fill="#fff" stroke="#1a1a1a" stroke-width="2"/>
<rect x="272.3" y="807.0" width="23.4" height="22.4" fill="#a3a3a3" stroke="#4a4a4a" stroke-width="1.8"/>
<rect x="308.2" y="806.2" width="25" height="24" fill="#adc4e2"/>
<rect x="345.5" y="807.0" width="23.4" height="22.4" fill="#a3a3a3" stroke="#4a4a4a" stroke-width="1.8"/>
<rect x="271.5" y="833.9" width="25" height="24" fill="#adc4e2"/>
<rect x="308.2" y="833.9" width="25" height="24" fill="#adc4e2"/>
<rect x="344.7" y="833.9" width="25" height="24" fill="#adc4e2"/>
<rect x="271.5" y="862" width="25" height="24" fill="#adc4e2"/>
<rect x="308.2" y="862" width="25" height="24" fill="#adc4e2"/>
<rect x="344.7" y="862" width="25" height="24" fill="#adc4e2"/>
<rect x="271.5" y="889.7" width="25" height="24" fill="#93afd4"/>
<rect x="308.2" y="889.7" width="25" height="24" fill="#93afd4"/>
<rect x="344.7" y="889.7" width="25" height="24" fill="#93afd4"/>
<rect x="271.5" y="917.6" width="25" height="24" fill="#5585c0"/>
<rect x="308.2" y="917.6" width="25" height="24" fill="#5585c0"/>
<rect x="345.5" y="918.4" width="23.4" height="22.4" fill="#ababab" stroke="#555" stroke-width="2" stroke-dasharray="5,3"/>
<rect x="406.0" y="799" width="120" height="146.5" fill="#fff" stroke="#1a1a1a" stroke-width="2"/>
<rect x="416.6" y="806.2" width="25" height="24" fill="#a2ddd0"/>
<rect x="453.3" y="806.2" width="25" height="24" fill="#a2ddd0"/>
<rect x="489.8" y="806.2" width="25" height="24" fill="#a2ddd0"/>
<rect x="416.6" y="833.9" width="25" height="24" fill="#7fd0b9"/>
<rect x="453.3" y="833.9" width="25" height="24" fill="#7fd0b9"/>
<rect x="489.8" y="833.9" width="25" height="24" fill="#7fd0b9"/>
<rect x="416.6" y="862" width="25" height="24" fill="#7fd0b9"/>
<rect x="453.3" y="862" width="25" height="24" fill="#7fd0b9"/>
<rect x="489.8" y="862" width="25" height="24" fill="#7fd0b9"/>
<rect x="416.6" y="889.7" width="25" height="24" fill="#469c82"/>
<rect x="453.3" y="889.7" width="25" height="24" fill="#469c82"/>
<rect x="489.8" y="889.7" width="25" height="24" fill="#469c82"/>
<rect x="416.6" y="917.6" width="25" height="24" fill="#1f604c"/>
<rect x="453.3" y="917.6" width="25" height="24" fill="#1f604c"/>
<rect x="490.6" y="918.4" width="23.4" height="22.4" fill="#ababab" stroke="#555" stroke-width="2" stroke-dasharray="5,3"/>
<rect x="550.2" y="799" width="120" height="146.5" fill="#fff" stroke="#1a1a1a" stroke-width="2"/>
<rect x="560.8000000000001" y="806.2" width="25" height="24" fill="#aecb88"/>
<rect x="597.5" y="806.2" width="25" height="24" fill="#aecb88"/>
<rect x="634.0" y="806.2" width="25" height="24" fill="#aecb88"/>
<rect x="560.8000000000001" y="833.9" width="25" height="24" fill="#86aa48"/>
<rect x="597.5" y="833.9" width="25" height="24" fill="#86aa48"/>
<rect x="634.0" y="833.9" width="25" height="24" fill="#aecb88"/>
<rect x="560.8000000000001" y="862" width="25" height="24" fill="#86aa48"/>
<rect x="597.5" y="862" width="25" height="24" fill="#7c9c58"/>
<rect x="634.0" y="862" width="25" height="24" fill="#7c9c58"/>
<rect x="560.8000000000001" y="889.7" width="25" height="24" fill="#5e7c44"/>
<rect x="597.5" y="889.7" width="25" height="24" fill="#5e7c44"/>
<rect x="634.0" y="889.7" width="25" height="24" fill="#5e7c44"/>
<rect x="560.8000000000001" y="917.6" width="25" height="24" fill="#4a602e"/>
<rect x="597.5" y="917.6" width="25" height="24" fill="#4a602e"/>
<rect x="634.8" y="918.4" width="23.4" height="22.4" fill="#ababab" stroke="#555" stroke-width="2" stroke-dasharray="5,3"/>
<rect x="694.3" y="799" width="120" height="146.5" fill="#fff" stroke="#1a1a1a" stroke-width="2"/>
<rect x="704.9" y="806.2" width="25" height="24" fill="#c98a3a"/>
<rect x="741.5999999999999" y="806.2" width="25" height="24" fill="#c98a3a"/>
<rect x="778.0999999999999" y="806.2" width="25" height="24" fill="#c98a3a"/>
<rect x="704.9" y="833.9" width="25" height="24" fill="#c98a3a"/>
<rect x="741.5999999999999" y="833.9" width="25" height="24" fill="#c98a3a"/>
<rect x="778.0999999999999" y="833.9" width="25" height="24" fill="#c98a3a"/>
<rect x="704.9" y="862" width="25" height="24" fill="#a97018"/>
<rect x="741.5999999999999" y="862" width="25" height="24" fill="#a97018"/>
<rect x="778.0999999999999" y="862" width="25" height="24" fill="#a97018"/>
<rect x="704.9" y="889.7" width="25" height="24" fill="#684a20"/>
<rect x="741.5999999999999" y="889.7" width="25" height="24" fill="#684a20"/>
<rect x="778.0999999999999" y="889.7" width="25" height="24" fill="#684a20"/>
<rect x="704.9" y="917.6" width="25" height="24" fill="#684a20"/>
<rect x="741.5999999999999" y="917.6" width="25" height="24" fill="#684a20"/>
<rect x="778.8999999999999" y="918.4" width="23.4" height="22.4" fill="#ababab" stroke="#555" stroke-width="2" stroke-dasharray="5,3"/>
<rect x="836.3" y="799" width="120" height="146.5" fill="#fff" stroke="#1a1a1a" stroke-width="2"/>
<rect x="846.9" y="806.2" width="25" height="24" fill="#d6607f"/>
<rect x="883.5999999999999" y="806.2" width="25" height="24" fill="#d6607f"/>
<rect x="920.0999999999999" y="806.2" width="25" height="24" fill="#d6607f"/>
<rect x="846.9" y="833.9" width="25" height="24" fill="#b83058"/>
<rect x="883.5999999999999" y="833.9" width="25" height="24" fill="#b83058"/>
<rect x="920.0999999999999" y="833.9" width="25" height="24" fill="#b83058"/>
<rect x="846.9" y="862" width="25" height="24" fill="#b83058"/>
<rect x="883.5999999999999" y="862" width="25" height="24" fill="#b83058"/>
<rect x="920.0999999999999" y="862" width="25" height="24" fill="#b83058"/>
<rect x="846.9" y="889.7" width="25" height="24" fill="#7a2042"/>
<rect x="883.5999999999999" y="889.7" width="25" height="24" fill="#7a2042"/>
<rect x="920.0999999999999" y="889.7" width="25" height="24" fill="#7a2042"/>
<rect x="846.9" y="917.6" width="25" height="24" fill="#7a2042"/>
<rect x="883.5999999999999" y="917.6" width="25" height="24" fill="#7a2042"/>
<rect x="920.8999999999999" y="918.4" width="23.4" height="22.4" fill="#ababab" stroke="#555" stroke-width="2" stroke-dasharray="5,3"/>
<rect x="260.9" y="982.5" width="120" height="145.29999999999995" fill="#fff" stroke="#1a1a1a" stroke-width="2"/>
<rect x="272.3" y="989.8" width="23.4" height="22.4" fill="#a3a3a3" stroke="#4a4a4a" stroke-width="1.8"/>
<rect x="308.2" y="989" width="25" height="24" fill="#d0dcee"/>
<rect x="345.5" y="989.8" width="23.4" height="22.4" fill="#a3a3a3" stroke="#4a4a4a" stroke-width="1.8"/>
<rect x="271.5" y="1016.5" width="25" height="24" fill="#adc4e2"/>
<rect x="308.2" y="1016.5" width="25" height="24" fill="#adc4e2"/>
<rect x="344.7" y="1016.5" width="25" height="24" fill="#adc4e2"/>
<rect x="271.5" y="1044" width="25" height="24" fill="#adc4e2"/>
<rect x="308.2" y="1044" width="25" height="24" fill="#adc4e2"/>
<rect x="344.7" y="1044" width="25" height="24" fill="#adc4e2"/>
<rect x="271.5" y="1071.2" width="25" height="24" fill="#93afd4"/>
<rect x="308.2" y="1071.2" width="25" height="24" fill="#90aad0"/>
<rect x="344.7" y="1071.2" width="25" height="24" fill="#98aac6"/>
<rect x="271.5" y="1098.8" width="25" height="24" fill="#5585c0"/>
<rect x="308.2" y="1098.8" width="25" height="24" fill="#5585c0"/>
<rect x="345.5" y="1099.6" width="23.4" height="22.4" fill="#ababab" stroke="#555" stroke-width="2" stroke-dasharray="5,3"/>
<rect x="406.0" y="982.5" width="120" height="145.29999999999995" fill="#fff" stroke="#1a1a1a" stroke-width="2"/>
<rect x="416.6" y="989" width="25" height="24" fill="#a2ddd0"/>
<rect x="453.3" y="989" width="25" height="24" fill="#a2ddd0"/>
<rect x="489.8" y="989" width="25" height="24" fill="#a2ddd0"/>
<rect x="416.6" y="1016.5" width="25" height="24" fill="#a2ddd0"/>
<rect x="453.3" y="1016.5" width="25" height="24" fill="#7fd0b9"/>
<rect x="489.8" y="1016.5" width="25" height="24" fill="#7fd0b9"/>
<rect x="416.6" y="1044" width="25" height="24" fill="#7fd0b9"/>
<rect x="453.3" y="1044" width="25" height="24" fill="#7fd0b9"/>
<rect x="489.8" y="1044" width="25" height="24" fill="#7fd0b9"/>
<rect x="416.6" y="1071.2" width="25" height="24" fill="#469c82"/>
<rect x="453.3" y="1071.2" width="25" height="24" fill="#469c82"/>
<rect x="489.8" y="1071.2" width="25" height="24" fill="#469c82"/>
<rect x="416.6" y="1098.8" width="25" height="24" fill="#1f604c"/>
<rect x="453.3" y="1098.8" width="25" height="24" fill="#2f7a6a"/>
<rect x="490.6" y="1099.6" width="23.4" height="22.4" fill="#ababab" stroke="#555" stroke-width="2" stroke-dasharray="5,3"/>
<rect x="550.2" y="982.5" width="120" height="145.29999999999995" fill="#fff" stroke="#1a1a1a" stroke-width="2"/>
<rect x="560.8000000000001" y="989" width="25" height="24" fill="#aecb88"/>
<rect x="597.5" y="989" width="25" height="24" fill="#aecb88"/>
<rect x="634.0" y="989" width="25" height="24" fill="#aecb88"/>
<rect x="560.8000000000001" y="1016.5" width="25" height="24" fill="#aecb88"/>
<rect x="597.5" y="1016.5" width="25" height="24" fill="#aecb88"/>
<rect x="634.0" y="1016.5" width="25" height="24" fill="#aecb88"/>
<rect x="560.8000000000001" y="1044" width="25" height="24" fill="#7c9c58"/>
<rect x="597.5" y="1044" width="25" height="24" fill="#7c9c58"/>
<rect x="634.0" y="1044" width="25" height="24" fill="#7c9c58"/>
<rect x="560.8000000000001" y="1071.2" width="25" height="24" fill="#5e7c44"/>
<rect x="597.5" y="1071.2" width="25" height="24" fill="#5e7c44"/>
<rect x="634.0" y="1071.2" width="25" height="24" fill="#5e7c44"/>
<rect x="560.8000000000001" y="1098.8" width="25" height="24" fill="#4a602e"/>
<rect x="597.5" y="1098.8" width="25" height="24" fill="#4a602e"/>
<rect x="634.8" y="1099.6" width="23.4" height="22.4" fill="#ababab" stroke="#555" stroke-width="2" stroke-dasharray="5,3"/>
<rect x="694.3" y="982.5" width="120" height="145.29999999999995" fill="#fff" stroke="#1a1a1a" stroke-width="2"/>
<rect x="704.9" y="989" width="25" height="24" fill="#eeb070"/>
<rect x="741.5999999999999" y="989" width="25" height="24" fill="#de8a20"/>
<rect x="778.0999999999999" y="989" width="25" height="24" fill="#de8a20"/>
<rect x="704.9" y="1016.5" width="25" height="24" fill="#de8a20"/>
<rect x="741.5999999999999" y="1016.5" width="25" height="24" fill="#de8a20"/>
<rect x="778.0999999999999" y="1016.5" width="25" height="24" fill="#de8a20"/>
<rect x="704.9" y="1044" width="25" height="24" fill="#de8a20"/>
<rect x="741.5999999999999" y="1044" width="25" height="24" fill="#de8a20"/>
<rect x="778.0999999999999" y="1044" width="25" height="24" fill="#de8a20"/>
<rect x="704.9" y="1071.2" width="25" height="24" fill="#a86e16"/>
<rect x="741.5999999999999" y="1071.2" width="25" height="24" fill="#a86e16"/>
<rect x="778.0999999999999" y="1071.2" width="25" height="24" fill="#a86e16"/>
<rect x="705.6999999999999" y="1099.6" width="23.4" height="22.4" fill="#ababab" stroke="#555" stroke-width="2" stroke-dasharray="5,3"/>
<rect x="742.3999999999999" y="1099.6" width="23.4" height="22.4" fill="#ababab" stroke="#555" stroke-width="2" stroke-dasharray="5,3"/>
<rect x="778.8999999999999" y="1099.6" width="23.4" height="22.4" fill="#ababab" stroke="#555" stroke-width="2" stroke-dasharray="5,3"/>
<rect x="836.3" y="982.5" width="120" height="145.29999999999995" fill="#fff" stroke="#1a1a1a" stroke-width="2"/>
<rect x="846.9" y="989" width="25" height="24" fill="#d6607f"/>
<rect x="883.5999999999999" y="989" width="25" height="24" fill="#d6607f"/>
<rect x="920.0999999999999" y="989" width="25" height="24" fill="#d6607f"/>
<rect x="846.9" y="1016.5" width="25" height="24" fill="#d6607f"/>
<rect x="883.5999999999999" y="1016.5" width="25" height="24" fill="#d6607f"/>
<rect x="920.0999999999999" y="1016.5" width="25" height="24" fill="#d6607f"/>
<rect x="846.9" y="1044" width="25" height="24" fill="#b83058"/>
<rect x="883.5999999999999" y="1044" width="25" height="24" fill="#b83058"/>
<rect x="920.0999999999999" y="1044" width="25" height="24" fill="#b83058"/>
<rect x="846.9" y="1071.2" width="25" height="24" fill="#6e2a40"/>
<rect x="883.5999999999999" y="1071.2" width="25" height="24" fill="#6e2a40"/>
<rect x="920.0999999999999" y="1071.2" width="25" height="24" fill="#6e2a40"/>
<rect x="847.6999999999999" y="1099.6" width="23.4" height="22.4" fill="#ababab" stroke="#555" stroke-width="2" stroke-dasharray="5,3"/>
<rect x="884.3999999999999" y="1099.6" width="23.4" height="22.4" fill="#ababab" stroke="#555" stroke-width="2" stroke-dasharray="5,3"/>
<rect x="920.8999999999999" y="1099.6" width="23.4" height="22.4" fill="#ababab" stroke="#555" stroke-width="2" stroke-dasharray="5,3"/>
<g stroke="#555" stroke-width="2" stroke-dasharray="7,5"><line x1="302.2" y1="800" x2="302.2" y2="945"/><line x1="338" y1="800" x2="338" y2="945"/></g>
<g stroke="#1a1a1a" stroke-width="2"><line x1="261" y1="977" x2="261" y2="983"/><line x1="381" y1="977" x2="381" y2="983"/></g>
<g stroke="#666" stroke-width="1.8"><line x1="262" y1="782.7" x2="262" y2="799"/><line x1="380.4" y1="782.7" x2="380.4" y2="799"/></g>
<g stroke="#8a8a8a" stroke-width="4.5" fill="none" stroke-linecap="round"><line x1="270" y1="781.6" x2="369" y2="781.6"/><polyline points="352,773.5 370.5,781.6 352,789.2"/></g>
<rect x="435.5" y="763.5" width="170" height="27.5" fill="none" stroke="#555" stroke-width="3" stroke-dasharray="11,7"/>
<rect x="637" y="763.5" width="105" height="28.5" fill="none" stroke="#555" stroke-width="3"/>
<g stroke="#777" stroke-width="1.8"><line x1="956" y1="799" x2="971.4" y2="799"/><line x1="956" y1="946" x2="971.4" y2="946"/></g>
<g stroke="#8a8a8a" stroke-width="5" fill="none" stroke-linecap="round"><line x1="980" y1="946" x2="980" y2="804"/><polyline points="972,818.5 980,802.5 988.5,818.5"/></g>
<g stroke="#777" stroke-width="1.8"><line x1="261" y1="1128" x2="261" y2="1146"/><line x1="956" y1="1128" x2="956" y2="1143"/></g>
<g stroke="#8a8a8a" stroke-width="5" fill="none" stroke-linecap="round"><line x1="263" y1="1148" x2="952" y2="1148"/><polyline points="936,1141 953.5,1148 936,1155"/></g>
<text x="-1.5" y="18.6" font-size="25" fill="#000" font-weight="bold">a</text>
<text x="436.2" y="18.4" font-size="25" fill="#000" font-weight="bold">b</text>
<text x="437.4" y="202.7" font-size="25" fill="#000" font-weight="bold">c</text>
<text x="740.2" y="18.2" font-size="25" fill="#000" font-weight="bold">d</text>
<text x="438.8" y="372" font-size="25" fill="#000" font-weight="bold">e</text>
<text x="0.8" y="530" font-size="25" fill="#000" font-weight="bold">f</text>
<text x="588.8" y="531.5" font-size="25" fill="#000" font-weight="bold">g</text>
<text x="0.3" y="762.5" font-size="25" fill="#000" font-weight="bold">h</text>
<text x="31" y="199.8" font-size="21" fill="#1c1c1c" stroke="#1c1c1c" stroke-width="0.3" textLength="76" lengthAdjust="spacing">Printing</text>
<text x="27" y="225.7" font-size="21" fill="#1c1c1c" stroke="#1c1c1c" stroke-width="0.3" textLength="92.5" lengthAdjust="spacing">speed (<tspan font-style="italic">v</tspan>)</text>
<text transform="translate(315,92) rotate(90)" x="0" y="0" font-size="21" fill="#1c1c1c" stroke="#1c1c1c" stroke-width="0.3" textLength="129" lengthAdjust="spacing">Flow rate (<tspan font-style="italic">Q</tspan>)</text>
<text x="84" y="310" font-size="21.5" fill="#1c1c1c" stroke="#1c1c1c" stroke-width="0.3" textLength="55.5" lengthAdjust="spacing">Trace</text>
<text x="72" y="329.5" font-size="21.5" fill="#1c1c1c" stroke="#1c1c1c" stroke-width="0.3" textLength="87" lengthAdjust="spacing">width (<tspan font-style="italic">w</tspan>)</text>
<text x="235" y="308.6" font-size="21" fill="#cf2a40" stroke="#cf2a40" stroke-width="0.3" textLength="121.5" lengthAdjust="spacing">Upper shear</text>
<text x="231" y="335" font-size="21" fill="#cf2a40" stroke="#cf2a40" stroke-width="0.3" textLength="71" lengthAdjust="spacing">stress (</text>
<text x="302.5" y="335" font-size="25" fill="#cf2a40" stroke="#cf2a40" stroke-width="0.3" font-style="italic">τ</text>
<text x="313.8" y="338.4" font-size="16.5" fill="#cf2a40" stroke="#cf2a40" stroke-width="0.3" font-style="italic" textLength="44" lengthAdjust="spacing">nozzle</text>
<text x="359.5" y="335" font-size="21" fill="#cf2a40" stroke="#cf2a40" stroke-width="0.3">)</text>
<text transform="translate(50.4,437) rotate(-90)" x="0" y="0" font-size="21" fill="#1c1c1c" stroke="#1c1c1c" stroke-width="0.3" textLength="73.5" lengthAdjust="spacing">Printing</text>
<text transform="translate(77.3,446.5) rotate(-90)" x="0" y="0" font-size="21" fill="#1c1c1c" stroke="#1c1c1c" stroke-width="0.3" textLength="92.5" lengthAdjust="spacing">height (<tspan font-style="italic">h</tspan>)</text>
<text x="139.5" y="474.8" font-size="21" fill="#3462b4" stroke="#3462b4" stroke-width="0.3" textLength="187.5" lengthAdjust="spacing">Lower shear stress</text>
<text x="195.5" y="495.5" font-size="21" fill="#3462b4" stroke="#3462b4" stroke-width="0.3">(</text>
<text x="199.5" y="496" font-size="25" fill="#3462b4" stroke="#3462b4" stroke-width="0.3" font-style="italic">τ</text>
<text x="212" y="499.8" font-size="16.5" fill="#3462b4" stroke="#3462b4" stroke-width="0.3" font-style="italic" textLength="57.5" lengthAdjust="spacing">substrate</text>
<text x="270.5" y="495.5" font-size="21" fill="#3462b4" stroke="#3462b4" stroke-width="0.3">)</text>
<text x="499.3" y="35.5" font-size="21" fill="#1c1c1c" stroke="#1c1c1c" stroke-width="0.3" textLength="112" lengthAdjust="spacing">Oxide layer</text>
<text x="661" y="35.5" font-size="21" fill="#1c1c1c" stroke="#1c1c1c" stroke-width="0.3" textLength="62" lengthAdjust="spacing">EGaIn</text>
<text x="542" y="84.9" font-size="21.5" fill="#1c1c1c" stroke="#1c1c1c" stroke-width="0.3" textLength="114.5" lengthAdjust="spacing">Yeild stress</text>
<text x="517" y="182.9" font-size="21" fill="#1c1c1c" stroke="#1c1c1c" stroke-width="0.3" textLength="153.5" lengthAdjust="spacing">Surface tension</text>
<text x="514" y="333" font-size="21" fill="#1c1c1c" stroke="#1c1c1c" stroke-width="0.3" textLength="141.5" lengthAdjust="spacing">Leaked EGaIn</text>
<text x="869.5" y="21.6" font-size="24" fill="#cf2a40" stroke="#cf2a40" stroke-width="0.3" font-style="italic">τ</text>
<text x="879" y="25.9" font-size="15" fill="#cf2a40" stroke="#cf2a40" stroke-width="0.3" font-style="italic" textLength="45" lengthAdjust="spacing">nozzle</text>
<text x="966" y="102.6" font-size="22" fill="#1c1c1c" stroke="#1c1c1c" stroke-width="0.3" font-style="italic">t</text>
<text x="769" y="91.5" font-size="22" fill="#1c1c1c" stroke="#1c1c1c" stroke-width="0.3" font-style="italic">v</text>
<text x="812.5" y="136.2" font-size="21.5" fill="#1c1c1c" stroke="#1c1c1c" stroke-width="0.3" font-style="italic">h</text>
<text x="862" y="171.8" font-size="23.5" fill="#3462b4" stroke="#3462b4" stroke-width="0.3" font-style="italic">τ</text>
<text x="871.5" y="176.6" font-size="15" fill="#3462b4" stroke="#3462b4" stroke-width="0.3" font-style="italic" textLength="65" lengthAdjust="spacing">substrate</text>
<text x="810.8" y="255.6" font-size="22.5" fill="#3462b4" stroke="#3462b4" stroke-width="0.3" font-style="italic">θ</text>
<text x="823.5" y="258.7" font-size="13.5" fill="#3462b4" stroke="#3462b4" stroke-width="0.3" font-style="italic" textLength="26" lengthAdjust="spacing">adv</text>
<text x="933.6" y="297.5" font-size="24" fill="#3462b4" stroke="#3462b4" stroke-width="0.3" font-style="italic">τ</text>
<text x="943" y="301.8" font-size="16.5" fill="#3462b4" stroke="#3462b4" stroke-width="0.3" font-style="italic" textLength="62.5" lengthAdjust="spacing">substrate</text>
<text x="845.3" y="312.8" font-size="24" fill="#3462b4" stroke="#3462b4" stroke-width="0.3" font-style="italic">τ</text>
<text x="854.8" y="317.2" font-size="15.5" fill="#3462b4" stroke="#3462b4" stroke-width="0.3">2</text>
<text x="474.5" y="379" font-size="19.5" fill="#222" stroke="#222" stroke-width="0.3" textLength="77.5" lengthAdjust="spacing"><tspan font-style="italic">θ</tspan> =150.2°</text>
<text x="737.5" y="381" font-size="27" fill="#1c1c1c" stroke="#1c1c1c" stroke-width="0.3" font-style="italic">t</text>
<text x="906" y="381" font-size="19.5" fill="#222" stroke="#222" stroke-width="0.3" font-style="italic">θ</text>
<text x="918" y="384.5" font-size="14" fill="#222" stroke="#222" stroke-width="0.3" textLength="20" lengthAdjust="spacing">adv</text>
<text x="938.5" y="381" font-size="19.5" fill="#222" stroke="#222" stroke-width="0.3" textLength="63" lengthAdjust="spacing">=156.2°</text>
<text x="504.5" y="499.1" font-size="19" fill="#2a2a2a" stroke="#2a2a2a" stroke-width="0.3" text-anchor="middle">0 s</text>
<text x="622.3" y="499.1" font-size="19" fill="#2a2a2a" stroke="#2a2a2a" stroke-width="0.3" text-anchor="middle">7 s</text>
<text x="740.5" y="499.1" font-size="19" fill="#2a2a2a" stroke="#2a2a2a" stroke-width="0.3" text-anchor="middle">14 s</text>
<text x="858.3" y="499.1" font-size="19" fill="#2a2a2a" stroke="#2a2a2a" stroke-width="0.3" text-anchor="middle">21 s</text>
<text x="979.9" y="499.1" font-size="19" fill="#2a2a2a" stroke="#2a2a2a" stroke-width="0.3" text-anchor="middle">28 s</text>
<text x="46.5" y="541.6" font-size="21" fill="#1c1c1c" stroke="#1c1c1c" stroke-width="0.3" textLength="138" lengthAdjust="spacing">Disconnection</text>
<text x="263" y="541.6" font-size="21" fill="#1c1c1c" stroke="#1c1c1c" stroke-width="0.3" textLength="82" lengthAdjust="spacing">Beading</text>
<text x="425" y="541.6" font-size="21" fill="#1c1c1c" stroke="#1c1c1c" stroke-width="0.3" textLength="119" lengthAdjust="spacing">Uniform line</text>
<text x="43.2" y="711.1" font-size="21" fill="#444" stroke="#444" stroke-width="0.3" font-style="italic">τ</text>
<text x="52.800000000000004" y="715.1" font-size="14" fill="#444" stroke="#444" stroke-width="0.3">1</text>
<text x="64.7" y="711.1" font-size="19.5" fill="#444" stroke="#444" stroke-width="0.3" textLength="44" lengthAdjust="spacing">≤ 0.5</text>
<text x="115.7" y="711.1" font-size="19.5" fill="#444" stroke="#444" stroke-width="0.3">,</text>
<text x="130.7" y="711.1" font-size="21" fill="#444" stroke="#444" stroke-width="0.3" font-style="italic">τ</text>
<text x="138.4" y="715.1" font-size="14" fill="#444" stroke="#444" stroke-width="0.3">2</text>
<text x="151.2" y="711.1" font-size="19.5" fill="#444" stroke="#444" stroke-width="0.3" textLength="44" lengthAdjust="spacing">≤ 0.5</text>
<text x="43.2" y="736.9" font-size="21" fill="#444" stroke="#444" stroke-width="0.3" font-style="italic">τ</text>
<text x="52.800000000000004" y="740.9" font-size="14" fill="#444" stroke="#444" stroke-width="0.3">1</text>
<text x="64.7" y="736.9" font-size="19.5" fill="#444" stroke="#444" stroke-width="0.3" textLength="44" lengthAdjust="spacing">≥ 0.5</text>
<text x="115.7" y="736.9" font-size="19.5" fill="#444" stroke="#444" stroke-width="0.3">,</text>
<text x="130.7" y="736.9" font-size="21" fill="#444" stroke="#444" stroke-width="0.3" font-style="italic">τ</text>
<text x="138.4" y="740.9" font-size="14" fill="#444" stroke="#444" stroke-width="0.3">2</text>
<text x="151.2" y="736.9" font-size="19.5" fill="#444" stroke="#444" stroke-width="0.3" textLength="44" lengthAdjust="spacing">≤ 0.5</text>
<text x="229.5" y="710.5" font-size="21" fill="#444" stroke="#444" stroke-width="0.3" font-style="italic">τ</text>
<text x="239.1" y="714.5" font-size="14" fill="#444" stroke="#444" stroke-width="0.3">1</text>
<text x="251.0" y="710.5" font-size="19.5" fill="#444" stroke="#444" stroke-width="0.3" textLength="44" lengthAdjust="spacing">≥ 0.5</text>
<text x="302.0" y="710.5" font-size="19.5" fill="#444" stroke="#444" stroke-width="0.3">,</text>
<text x="317.0" y="710.5" font-size="21" fill="#444" stroke="#444" stroke-width="0.3" font-style="italic">τ</text>
<text x="324.7" y="714.5" font-size="14" fill="#444" stroke="#444" stroke-width="0.3">2</text>
<text x="337.5" y="710.5" font-size="19.5" fill="#444" stroke="#444" stroke-width="0.3" textLength="44" lengthAdjust="spacing">≥ 0.5</text>
<text x="414.3" y="710.5" font-size="21" fill="#cc2a3a" stroke="#cc2a3a" stroke-width="0.3" font-style="italic">τ</text>
<text x="423.90000000000003" y="714.5" font-size="14" fill="#cc2a3a" stroke="#cc2a3a" stroke-width="0.3">1</text>
<text x="435.8" y="710.5" font-size="19.5" fill="#cc2a3a" stroke="#cc2a3a" stroke-width="0.3" textLength="44" lengthAdjust="spacing">≤ 0.5</text>
<text x="486.8" y="710.5" font-size="19.5" fill="#cc2a3a" stroke="#cc2a3a" stroke-width="0.3">,</text>
<text x="501.8" y="710.5" font-size="21" fill="#cc2a3a" stroke="#cc2a3a" stroke-width="0.3" font-style="italic">τ</text>
<text x="509.5" y="714.5" font-size="14" fill="#cc2a3a" stroke="#cc2a3a" stroke-width="0.3">2</text>
<text x="522.3" y="710.5" font-size="19.5" fill="#cc2a3a" stroke="#cc2a3a" stroke-width="0.3" textLength="44" lengthAdjust="spacing">≥ 0.5</text>
<text x="679.5" y="550.5" font-size="18" fill="#1a2a3a" stroke="#1a2a3a" stroke-width="0.3">64</text>
<text x="679.5" y="576.3" font-size="18" fill="#0e1e3a" stroke="#0e1e3a" stroke-width="0.3">71</text>
<text x="654.5" y="632.2" font-size="18.5" fill="#2452a8" font-weight="bold" textLength="70" lengthAdjust="spacing">Total 75</text>
<text transform="translate(753,605) rotate(90)" x="0" y="0" font-size="18" fill="#222" stroke="#222" stroke-width="0.3">4</text>
<text transform="translate(760.5,639) rotate(90)" x="0" y="0" font-size="18" fill="#222" stroke="#222" stroke-width="0.3">5</text>
<text transform="translate(747,673) rotate(60)" x="0" y="0" font-size="18" fill="#222" stroke="#222" stroke-width="0.3">2</text>
<text x="830" y="567" font-size="21" fill="#1c1c1c" stroke="#1c1c1c" stroke-width="0.3" textLength="192.5" lengthAdjust="spacing">Successful prediction</text>
<text x="830" y="602.5" font-size="21" fill="#1c1c1c" stroke="#1c1c1c" stroke-width="0.3" textLength="148.5" lengthAdjust="spacing">Failed prediction</text>
<text x="830" y="637.5" font-size="21" fill="#1c1c1c" stroke="#1c1c1c" stroke-width="0.3" textLength="127.5" lengthAdjust="spacing">Disconnection</text>
<text x="830" y="673.2" font-size="21" fill="#1c1c1c" stroke="#1c1c1c" stroke-width="0.3" textLength="73.5" lengthAdjust="spacing">Beading</text>
<text x="830" y="709.5" font-size="21" fill="#1c1c1c" stroke="#1c1c1c" stroke-width="0.3" textLength="108.5" lengthAdjust="spacing">Uniform line</text>
<text x="99" y="808.3" font-size="22" fill="#1c1c1c" stroke="#1c1c1c" stroke-width="0.3" textLength="42" lengthAdjust="spacing" text-anchor="end">0.07</text>
<text x="99" y="863.3299999999999" font-size="22" fill="#1c1c1c" stroke="#1c1c1c" stroke-width="0.3" textLength="42" lengthAdjust="spacing" text-anchor="end">0.06</text>
<text x="99" y="918.3599999999999" font-size="22" fill="#1c1c1c" stroke="#1c1c1c" stroke-width="0.3" textLength="42" lengthAdjust="spacing" text-anchor="end">0.05</text>
<text x="99" y="973.39" font-size="22" fill="#1c1c1c" stroke="#1c1c1c" stroke-width="0.3" textLength="42" lengthAdjust="spacing" text-anchor="end">0.04</text>
<text x="99" y="1028.42" font-size="22" fill="#1c1c1c" stroke="#1c1c1c" stroke-width="0.3" textLength="42" lengthAdjust="spacing" text-anchor="end">0.03</text>
<text x="99" y="1083.4499999999998" font-size="22" fill="#1c1c1c" stroke="#1c1c1c" stroke-width="0.3" textLength="42" lengthAdjust="spacing" text-anchor="end">0.02</text>
<text x="99" y="1138.48" font-size="22" fill="#1c1c1c" stroke="#1c1c1c" stroke-width="0.3" textLength="42" lengthAdjust="spacing" text-anchor="end">0.01</text>
<text transform="translate(39.5,1006.5) rotate(-90)" x="0" y="0" font-size="27.5" fill="#1c1c1c" stroke="#1c1c1c" stroke-width="0.3" textLength="89" lengthAdjust="spacing"><tspan font-style="italic">w</tspan> (mm)</text>
<text transform="translate(196.7,929.3) rotate(-90)" x="0" y="0" font-size="23.5" fill="#fff" font-weight="bold" textLength="109.5" lengthAdjust="spacing">Predicted</text>
<text transform="translate(223.3,906.7) rotate(-90)" x="0" y="0" font-size="23.5" fill="#fff" font-weight="bold" textLength="64.5" lengthAdjust="spacing">result</text>
<text transform="translate(196.7,1129.8) rotate(-90)" x="0" y="0" font-size="23.5" fill="#fff" font-weight="bold" textLength="150" lengthAdjust="spacing">Experimental</text>
<text transform="translate(223.3,1086.7) rotate(-90)" x="0" y="0" font-size="23.5" fill="#fff" font-weight="bold" textLength="64.5" lengthAdjust="spacing">result</text>
<text x="224.8" y="779" font-size="20.5" fill="#1c1c1c" stroke="#1c1c1c" stroke-width="0.3" textLength="40" lengthAdjust="spacing">0.01</text>
<text x="376" y="779" font-size="20.5" fill="#1c1c1c" stroke="#1c1c1c" stroke-width="0.3" textLength="41" lengthAdjust="spacing">0.03</text>
<text x="276.5" y="766.7" font-size="28" fill="#1c1c1c" stroke="#1c1c1c" stroke-width="0.3" textLength="86" lengthAdjust="spacing"><tspan font-style="italic">h</tspan> (mm)</text>
<text x="446" y="785.5" font-size="23" fill="#1c1c1c" stroke="#1c1c1c" stroke-width="0.3" textLength="149.5" lengthAdjust="spacing">Disconnection</text>
<text x="646.5" y="785.5" font-size="23" fill="#1c1c1c" stroke="#1c1c1c" stroke-width="0.3" textLength="87" lengthAdjust="spacing">Beading</text>
<text transform="translate(989.2,799.5) rotate(-90)" x="0" y="0" font-size="20.5" fill="#1c1c1c" stroke="#1c1c1c" stroke-width="0.3">2</text>
<text transform="translate(989.2,973) rotate(-90)" x="0" y="0" font-size="20.5" fill="#1c1c1c" stroke="#1c1c1c" stroke-width="0.3" textLength="26" lengthAdjust="spacing">0.4</text>
<text transform="translate(1014.5,935) rotate(-90)" x="0" y="0" font-size="25.8" fill="#1c1c1c" stroke="#1c1c1c" stroke-width="0.3"><tspan font-style="italic">v</tspan> (m min<tspan font-size="14" dy="-9">&#8211;1</tspan><tspan dy="9">)</tspan></text>
<text x="247" y="1159" font-size="22" fill="#1c1c1c" stroke="#1c1c1c" stroke-width="0.3">3</text>
<text x="957.5" y="1166" font-size="21.5" fill="#1c1c1c" stroke="#1c1c1c" stroke-width="0.3" textLength="24" lengthAdjust="spacing">15</text>
<text x="551" y="1175" font-size="27.5" fill="#1c1c1c" stroke="#1c1c1c" stroke-width="0.3"><tspan font-style="italic">Q</tspan> (mL h<tspan font-size="16" dy="-10">-1</tspan><tspan dy="10">)</tspan></text>
<rect x="1022.6" y="0" width="1.4" height="1181" fill="#1a1a1a"/>
</svg>
</body></html>
